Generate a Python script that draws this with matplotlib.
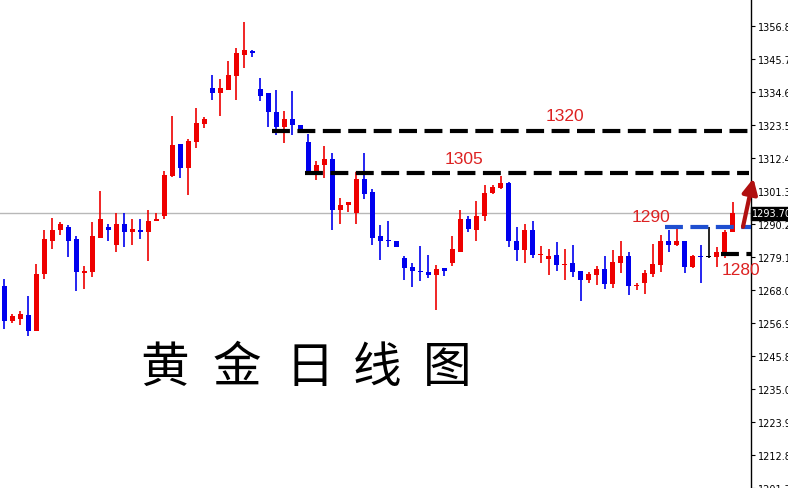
import numpy as np
import matplotlib
matplotlib.use('Agg')
import matplotlib.pyplot as plt
from matplotlib import transforms

# 黄金日线 OHLC
opens = [1269.2, 1257.5, 1258.2, 1259.5, 1254.1, 1273.2, 1284.6, 1288.0, 1289.0, 1285.0,
         1273.6, 1273.9, 1285.6, 1289.0, 1283.0, 1290.3, 1287.3, 1288.3, 1287.6, 1291.0,
         1293.0, 1306.4, 1317.1, 1309.1, 1317.8, 1323.8, 1335.9, 1334.2, 1335.2, 1339.9,
         1346.9, 1348.3, 1335.5, 1334.2, 1327.8, 1322.8, 1325.5, 1323.5, 1317.8, 1307.7,
         1310.1, 1312.1, 1295.0, 1296.7, 1293.7, 1305.4, 1301.0, 1286.0, 1284.6, 1284.6,
         1278.6, 1275.6, 1274.2, 1273.9, 1272.9, 1275.2, 1276.9, 1280.9, 1291.7, 1288.3,
         1292.7, 1300.7, 1302.4, 1304.1, 1284.6, 1281.3, 1288.0, 1279.6, 1278.3, 1279.6,
         1276.3, 1276.9, 1274.2, 1271.2, 1272.9, 1274.9, 1269.9, 1276.9, 1279.3, 1269.2,
         1270.2, 1273.2, 1276.3, 1284.3, 1283.0, 1284.3, 1275.6, 1279.3, 1279.0, 1278.9,
         1280.6, 1287.6]
highs = [1271.6, 1259.9, 1260.8, 1265.9, 1276.6, 1288.3, 1292.3, 1290.7, 1289.7, 1286.0,
         1275.9, 1290.7, 1301.4, 1290.3, 1294.0, 1293.7, 1291.7, 1291.7, 1294.7, 1293.7,
         1308.1, 1326.5, 1317.1, 1318.8, 1329.2, 1326.2, 1340.2, 1338.9, 1344.9, 1349.3,
         1358.0, 1348.6, 1339.2, 1334.2, 1335.2, 1328.2, 1334.9, 1323.5, 1320.5, 1311.4,
         1316.5, 1314.1, 1299.0, 1297.7, 1307.7, 1314.1, 1302.0, 1289.7, 1291.0, 1284.6,
         1279.3, 1276.9, 1282.6, 1279.6, 1276.3, 1275.2, 1286.0, 1294.7, 1292.7, 1298.0,
         1303.1, 1303.1, 1306.4, 1304.4, 1289.3, 1290.3, 1291.3, 1282.6, 1281.6, 1284.0,
         1281.9, 1283.0, 1274.2, 1273.9, 1275.9, 1279.3, 1281.3, 1284.6, 1280.6, 1270.2,
         1274.6, 1283.3, 1286.3, 1288.0, 1289.3, 1284.3, 1279.6, 1283.0, 1289.3, 1282.3,
         1288.0, 1297.7]
lows = [1254.8, 1256.8, 1256.2, 1252.5, 1254.1, 1271.6, 1281.6, 1286.6, 1278.9, 1267.5,
        1268.2, 1272.2, 1285.3, 1284.3, 1280.9, 1282.3, 1283.0, 1285.0, 1277.6, 1291.0,
        1292.0, 1306.1, 1305.7, 1300.0, 1315.8, 1322.5, 1331.9, 1326.5, 1335.2, 1331.9,
        1342.6, 1346.3, 1331.5, 1322.8, 1320.1, 1317.5, 1320.1, 1321.1, 1307.4, 1305.1,
        1305.7, 1288.3, 1290.3, 1294.3, 1290.0, 1298.7, 1283.0, 1277.9, 1282.3, 1282.3,
        1271.2, 1268.9, 1270.9, 1271.9, 1261.2, 1272.6, 1275.9, 1280.9, 1287.3, 1284.6,
        1291.3, 1300.4, 1302.0, 1282.3, 1277.6, 1276.9, 1278.6, 1276.9, 1272.9, 1274.2,
        1271.2, 1272.2, 1264.2, 1270.2, 1269.6, 1268.2, 1268.5, 1273.6, 1266.2, 1267.9,
        1266.5, 1272.2, 1273.9, 1280.6, 1282.6, 1273.6, 1275.2, 1270.2, 1278.6, 1275.6,
        1278.6, 1287.3]
closes = [1257.5, 1259.2, 1259.9, 1254.1, 1273.2, 1285.0, 1288.0, 1290.0, 1284.6, 1273.9,
          1274.2, 1286.0, 1291.7, 1288.3, 1290.3, 1287.3, 1288.6, 1287.6, 1291.0, 1292.0,
          1306.7, 1316.8, 1309.1, 1318.1, 1324.2, 1325.5, 1334.2, 1335.9, 1340.2, 1347.6,
          1348.6, 1347.6, 1333.2, 1327.8, 1322.8, 1325.5, 1323.5, 1321.8, 1307.7, 1310.1,
          1312.1, 1294.7, 1296.4, 1297.4, 1305.4, 1300.4, 1285.6, 1284.3, 1284.3, 1282.3,
          1275.2, 1274.2, 1273.9, 1272.9, 1274.9, 1274.2, 1281.6, 1292.0, 1288.6, 1293.0,
          1300.7, 1302.7, 1304.1, 1284.6, 1281.3, 1288.0, 1279.9, 1279.9, 1279.3, 1276.3,
          1276.6, 1273.9, 1271.2, 1273.2, 1274.9, 1269.9, 1277.3, 1279.3, 1269.2, 1269.6,
          1273.6, 1276.6, 1284.3, 1283.0, 1284.3, 1275.6, 1279.3, 1278.9, 1279.0, 1280.6,
          1287.6, 1293.7]

# price axis
tick_values = [1356.8 - 11.1 * k for k in range(15)]
tick_labels = ['1356.80', '1345.70', '1334.60', '1323.50', '1312.40', '1301.30', '1290.20',
               '1279.10', '1268.00', '1256.90', '1245.80', '1235.00', '1223.90', '1212.80',
               '1201.70']
last_price = 1293.7

# hand-drawn levels: (price, start bar, end bar, colour, label, label bar, label price)
levels = [
    (1321.5, 33.5, 93.0, 'black', '1320', 70.0, 1326.5),
    (1307.4, 37.6, 93.0, 'black', '1305', 57.4, 1312.2),
    (1289.1, 82.6, 93.8, '#1f4fd0', '1290', 80.8, 1292.6),
    (1280.0, 89.5, 93.8, 'black', '1280', 92.1, 1275.0),
]

o = np.array(opens); h = np.array(highs); l = np.array(lows); c = np.array(closes)
x = np.arange(len(o))
cols = np.where(c > o, '#ee0000', np.where(c < o, '#0000ee', 'black'))

fig = plt.figure(figsize=(7.88, 4.89), dpi=100)
ax = fig.add_axes([0, 0, 751 / 788, 1])

ax.axhline(last_price, color='#b8b8b8', lw=1, zorder=0)
ax.vlines(x, l, h, colors=cols, lw=1.2, zorder=2)
body = np.maximum(np.abs(c - o), 0.4)
ax.bar(x, body, bottom=np.minimum(o, c), width=0.62, color=cols, zorder=3)

for price, x0, x1, col, lab, lx, ly in levels:
    ax.hlines(price, x0, x1, colors=col, lw=3, linestyles=(0, (4.3, 1.8)), zorder=4)
    ax.text(lx, ly, lab, color='#dd2222', fontsize=12.5, family='Liberation Sans',
            ha='center', va='center', clip_on=False, zorder=5)

# up arrow
ax.annotate('', xy=(93.6, 1305.5), xytext=(92.3, 1289.2), annotation_clip=False,
            arrowprops=dict(arrowstyle='-|>,head_length=0.9,head_width=0.45',
                            color='#b01010', lw=3, shrinkA=0, shrinkB=0), zorder=6)

ax.set_xlim(-0.54, 93.3)
ax.set_ylim(1201.8, 1365.8)
ax.set_xticks([])
ax.yaxis.tick_right()
ax.set_yticks(tick_values)
ax.set_yticklabels(tick_labels)
ax.tick_params(axis='y', length=3, width=0.8, pad=2, labelsize=7, colors='black')
for s in ['left', 'top', 'bottom']:
    ax.spines[s].set_visible(False)
ax.spines['right'].set_linewidth(1)

# current price tag
trans = transforms.blended_transform_factory(ax.transAxes, ax.transData)
ax.text(1.0015, last_price, '1293.70', transform=trans, fontsize=7, color='white',
        ha='left', va='center', clip_on=False, zorder=7,
        bbox=dict(boxstyle='square,pad=0.15', fc='black', ec='black'))

# title written on the chart
for ch, px in zip('黄金日线图', [165, 237, 310, 377, 447]):
    fig.text(px / 788, 1 - 368 / 489, ch, fontsize=35, family='Noto Sans CJK SC',
             fontweight='light', ha='center', va='center', color='black')

fig.savefig('out.png', dpi=100)
